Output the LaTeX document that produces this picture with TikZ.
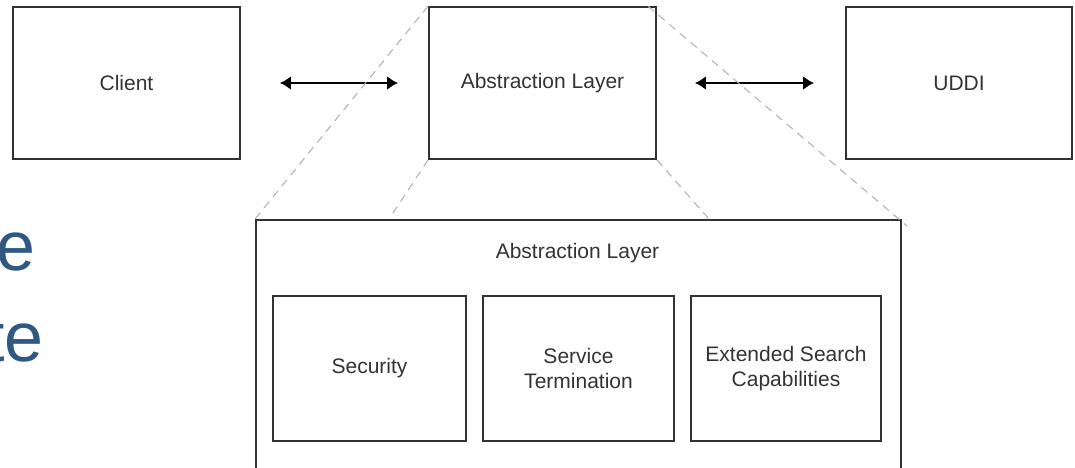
\documentclass[tikz,border=0pt]{standalone}
\usepackage{fontspec}
\setmainfont{Liberation Sans}
\usetikzlibrary{arrows.meta}
\definecolor{slideblue}{RGB}{47,88,131}
\definecolor{boxline}{RGB}{50,50,50}
\definecolor{zoomline}{RGB}{180,180,180}
\tikzset{
  unit/.style={draw=boxline, line width=1.8pt, fill=white, inner sep=0pt,
    align=center, text=black!80, font=\fontsize{21}{25}\selectfont},
  topbox/.style={unit, minimum width=227pt, minimum height=152pt},
  innerbox/.style={unit, minimum height=145pt},
  link/.style={line width=2.2pt, {Latex[length=11pt,width=14pt]}-{Latex[length=11pt,width=14pt]}},
  zoomedge/.style={draw=zoomline, line width=1.1pt, dash pattern=on 8pt off 6pt},
  slidetext/.style={text=slideblue, inner sep=0pt, anchor=base east,
    font=\fontsize{70}{80}\selectfont}
}
\begin{document}
\begin{tikzpicture}[x=1pt, y=-1pt]
  \useasboundingbox (0,0) rectangle (1075,467);
  \clip (0,0) rectangle (1075,467);

  % fragments of the slide text behind the figure
  \node[slidetext] (w1) at (36,270) {e};
  \node[slidetext] (w2) at (44,361) {te};

  % top row
  \node[topbox] (cl) at (126.5,83) {Client};
  \node[topbox] (al) at (542.5,83) {Abstraction Layer};
  \node[topbox, minimum width=226pt] (ud) at (959,83) {UDDI};

  \draw[link] ([xshift=39pt]cl.east) -- ([xshift=-30pt]al.west);
  \draw[link] ([xshift=38pt]al.east) -- ([xshift=-31pt]ud.west);

  % expanded view of the abstraction layer
  \node[unit, minimum width=645pt, minimum height=280pt, anchor=north west] (big) at (255,219) {};
  \node[inner sep=0pt, text=black!80, font=\fontsize{21}{25}\selectfont] (bigt) at (577.5,253) {Abstraction Layer};

  \node[innerbox, minimum width=193pt] (sec) at (369.5,368.5) {Security};
  \node[innerbox, minimum width=191pt] (svt) at (578.5,368.5) {Service\\Termination};
  \node[innerbox, minimum width=190pt] (ext) at (786,368.5) {Extended Search\\Capabilities};

  % zoom guides
  \coordinate (g2) at (391,216);
  \coordinate (g3) at (709,219);
  \coordinate (g4) at (907,226);
  \draw[zoomedge] (al.north west) -- (big.north west);
  \draw[zoomedge] (al.south west) -- (g2);
  \draw[zoomedge] (al.south east) -- (g3);
  \draw[zoomedge] ([xshift=-9pt]al.north east) -- (g4);
\end{tikzpicture}
\end{document}
